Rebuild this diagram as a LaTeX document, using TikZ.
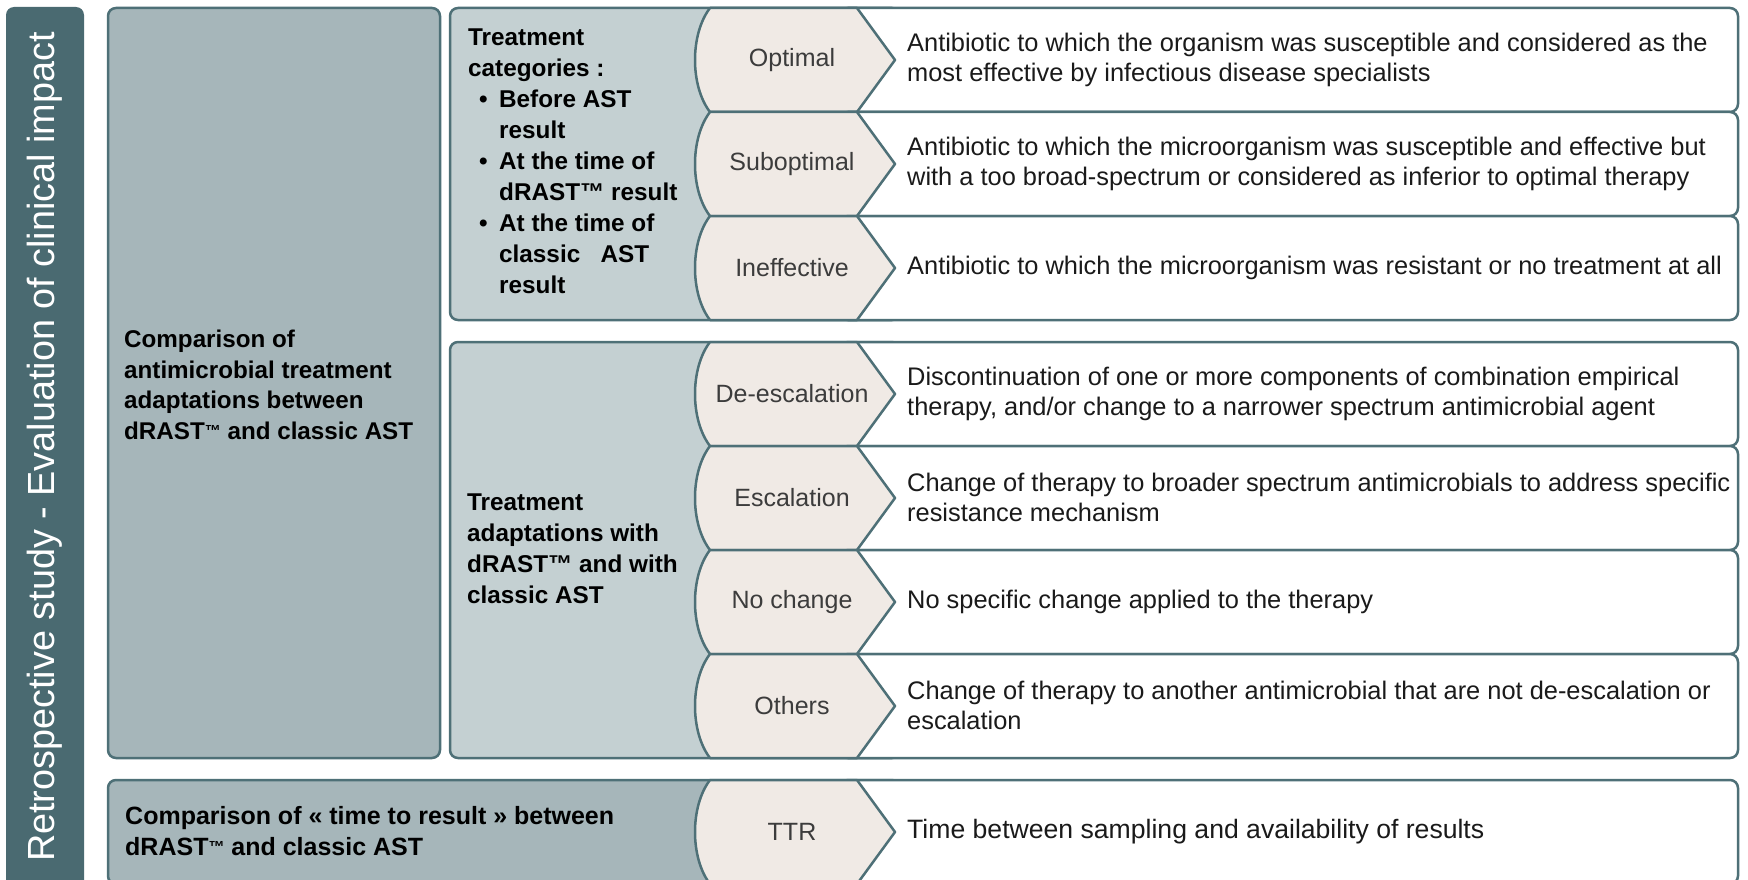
\documentclass[tikz,border=0pt]{standalone}
\usepackage{fontspec}
\setmainfont{Liberation Sans}
\definecolor{bar}{HTML}{4A6A71}
\definecolor{edge}{HTML}{4E7077}
\definecolor{bigfill}{HTML}{A6B6BA}
\definecolor{panelfill}{HTML}{C4D0D2}
\definecolor{chevfill}{HTML}{F0EAE5}
\definecolor{labelgray}{HTML}{3C3C3C}
\definecolor{desctext}{HTML}{1A1A1A}
\newcommand\smalltm{\raisebox{3pt}{\fontsize{16}{16}\selectfont ™}}
\newcommand\chevshape[2]{%
  \draw[chev] (710,#1) -- (857,#1) -- (895,{(#1+#2)/2}) -- (857,#2) -- (710,#2)
    .. controls (690,#2-26) and (690,#1+26) .. (710,#1) -- cycle;}
\newcommand\rowitem[6][]{%
  \draw[frame, fill=white] (840,#2) rectangle (1738,#3);
  \chevshape{#2}{#3}
  \node[lab] (#4) at (792,{(#2+#3)/2}) {#5};
  \node[desc,#1] (#4d) at (907,{(#2+#3)/2-0.5}) {#6};}
\begin{document}
\begin{tikzpicture}[x=1pt,y=-1pt,
  frame/.style={draw=edge, line width=2.5pt, rounded corners=8pt},
  chev/.style={draw=edge, line width=2.5pt, fill=chevfill, line join=round},
  desc/.style={anchor=west, inner sep=0pt, align=left, font=\fontsize{25.4}{30}\selectfont, text=desctext},
  lab/.style={inner sep=0pt, font=\fontsize{25}{30}\selectfont, text=labelgray},
  head/.style={anchor=west, inner sep=0pt, align=left, font=\fontsize{24.2}{30.5}\bfseries\selectfont}]
\clip (0,0) rectangle (1748,880);
\fill[white] (0,0) rectangle (1748,880);

% left title bar
\fill[bar, rounded corners=8pt] (6,7) rectangle (84,910);
\node[rotate=90, text=white, font=\fontsize{37.8}{40}\selectfont, inner sep=0pt] (title) at (45,447)
  {Retrospective study - Evaluation of clinical impact};

% big comparison box
\draw[frame, fill=bigfill] (108,8) rectangle (440,758);
\node[head] (cmp) at (124,385) {Comparison of\\antimicrobial treatment\\adaptations between\\dRAST\smalltm\ and classic AST};

% upper panel
\draw[frame, fill=panelfill] (450,8) rectangle (900,320);
\node[head, font=\fontsize{24.3}{31}\bfseries\selectfont] (cat) at (468,161)
  {Treatment\\categories :\\
   \makebox[31pt][l]{\hspace{11pt}•}Before AST\\
   \hspace*{31pt}result\\
   \makebox[31pt][l]{\hspace{11pt}•}At the time of\\
   \hspace*{31pt}dRAST™ result\\
   \makebox[31pt][l]{\hspace{11pt}•}At the time of\\
   \hspace*{31pt}classic\ \ \ AST\\
   \hspace*{31pt}result};
\rowitem{8}{112}{opt}{Optimal}{Antibiotic to which the organism was susceptible and considered as the\\most effective by infectious disease specialists}
\rowitem{112}{216}{sub}{Suboptimal}{Antibiotic to which the microorganism was susceptible and effective but\\with a too broad-spectrum or considered as inferior to optimal therapy}
\rowitem{216}{320}{ineff}{Ineffective}{Antibiotic to which the microorganism was resistant or no treatment at all}

% lower panel
\draw[frame, fill=panelfill] (450,342) rectangle (900,758);
\node[head, font=\fontsize{24.3}{31}\bfseries\selectfont] (adapt) at (467,549)
  {Treatment\\adaptations with\\dRAST™ and with\\classic AST};
\rowitem{342}{446}{deesc}{De-escalation}{Discontinuation of one or more components of combination empirical\\therapy, and/or change to a narrower spectrum antimicrobial agent}
\rowitem{446}{550}{esc}{Escalation}{Change of therapy to broader spectrum antimicrobials to address specific\\resistance mechanism}
\rowitem{550}{654}{noch}{No change}{No specific change applied to the therapy}
\rowitem{654}{758}{oth}{Others}{Change of therapy to another antimicrobial that are not de-escalation or\\escalation}

% TTR row
\draw[frame, fill=bigfill] (108,780) rectangle (900,884);
\node[head, font=\fontsize{25}{31.5}\bfseries\selectfont] (ttrhead) at (125,831)
  {Comparison of « time to result » between\\dRAST\smalltm\ and classic AST};
\rowitem[font=\fontsize{26.6}{30}\selectfont]{780}{884}{ttr}{TTR}{Time between sampling and availability of results}
\end{tikzpicture}
\end{document}
